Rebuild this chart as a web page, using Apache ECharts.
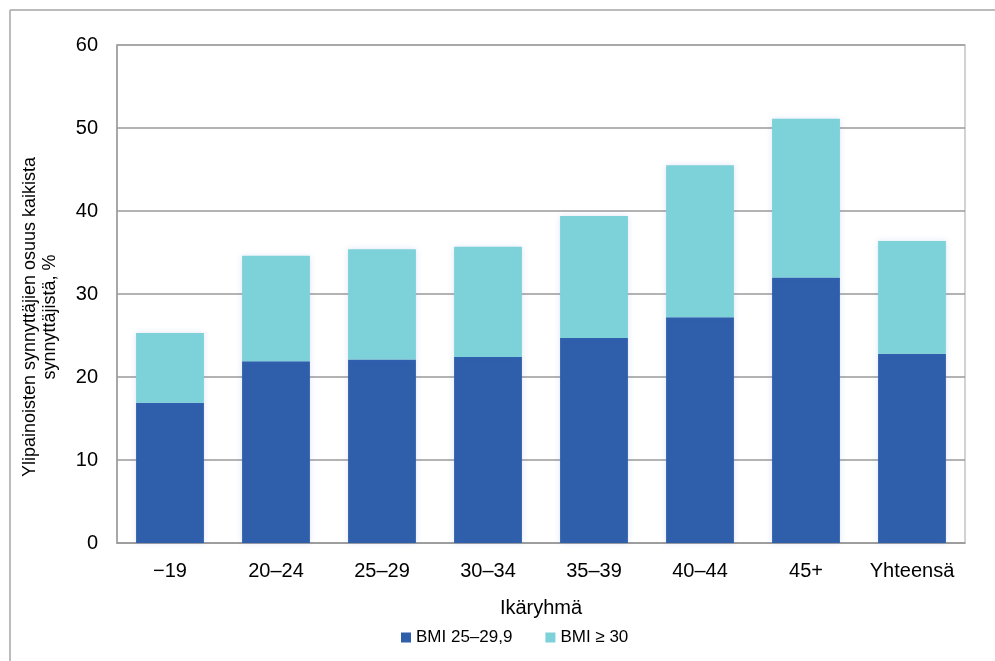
<!DOCTYPE html>
<html>
<head>
<meta charset="utf-8">
<script src="https://cdn.jsdelivr.net/npm/echarts@6/dist/echarts.min.js"></script>
<style>
    html, body { margin: 0; padding: 0; background: #fff; }
    #main { width: 995px; height: 661px; }
</style>
</head>
<body>
<div id="main"></div>
<script>
    var categories = ['\u221219', '20\u201324', '25\u201329', '30\u201334', '35\u201339', '40\u201344', '45+', 'Yhteens\u00e4'];
    var bmi25 = [16.9, 21.9, 22.1, 22.4, 24.7, 27.2, 32.0, 22.8];
    var bmi30 = [8.4, 12.7, 13.3, 13.3, 14.7, 18.3, 19.1, 13.6];
    var seriesNames = ['BMI 25\u201329,9', 'BMI \u2265 30'];

    var font = 'Liberation Sans, Arial, sans-serif';
    var mychart = echarts.init(document.getElementById('main'));

    var option = {
        backgroundColor: '#fff',
        animation: false,
        textStyle: { fontFamily: font },
        graphic: [
            {
                type: 'line',
                shape: { x1: 10, y1: 10, x2: 995, y2: 10 },
                style: { stroke: '#a6a6a6', lineWidth: 1.5 }
            },
            {
                type: 'line',
                shape: { x1: 10, y1: 10, x2: 10, y2: 661 },
                style: { stroke: '#a6a6a6', lineWidth: 1.5 }
            },
            {
                type: 'text',
                x: 40,
                y: 317,
                rotation: Math.PI / 2,
                style: {
                    text: 'Ylipainoisten synnyttäjien osuus kaikista\nsynnyttäjistä, %',
                    font: '18px ' + font,
                    fill: '#000',
                    align: 'center',
                    verticalAlign: 'middle',
                    lineHeight: 20
                }
            }
        ],
        grid: {
            left: 117,
            right: 30,
            top: 45,
            bottom: 118,
            show: true,
            borderColor: '#c4c4c4',
            borderWidth: 1.5
        },
        legend: {
            data: seriesNames,
            left: 396,
            top: 624,
            itemWidth: 10,
            itemHeight: 10,
            itemGap: 33,
            icon: 'rect',
            textStyle: { fontSize: 17, color: '#000', fontFamily: font }
        },
        xAxis: {
            type: 'category',
            data: categories,
            name: 'Ikäryhmä',
            nameLocation: 'middle',
            nameGap: 55,
            nameTextStyle: { fontSize: 20, color: '#000', fontFamily: font },
            axisLine: { lineStyle: { color: '#9a9a9a', width: 1.5 } },
            axisTick: { show: false },
            axisLabel: { interval: 0, fontSize: 20, color: '#000', margin: 18, fontFamily: font }
        },
        yAxis: {
            type: 'value',
            min: 0,
            max: 60,
            interval: 10,
            axisLine: { show: true, lineStyle: { color: '#9a9a9a', width: 1.5 } },
            axisTick: { show: false },
            axisLabel: { fontSize: 20, color: '#000', margin: 19, fontFamily: font },
            splitLine: { lineStyle: { color: '#9a9a9a', width: 1.5 } }
        },
        series: [
            {
                name: seriesNames[0],
                type: 'bar',
                stack: 'total',
                barWidth: '64%',
                itemStyle: {
                    color: '#2f5fab',
                    shadowBlur: 6,
                    shadowColor: 'rgba(70,110,210,0.18)'
                },
                data: bmi25
            },
            {
                name: seriesNames[1],
                type: 'bar',
                stack: 'total',
                barWidth: '64%',
                itemStyle: {
                    color: '#7dd1d8',
                    shadowBlur: 6,
                    shadowColor: 'rgba(70,110,210,0.18)'
                },
                data: bmi30
            }
        ]
    };

    mychart.setOption(option, true);
</script>
</body>
</html>
